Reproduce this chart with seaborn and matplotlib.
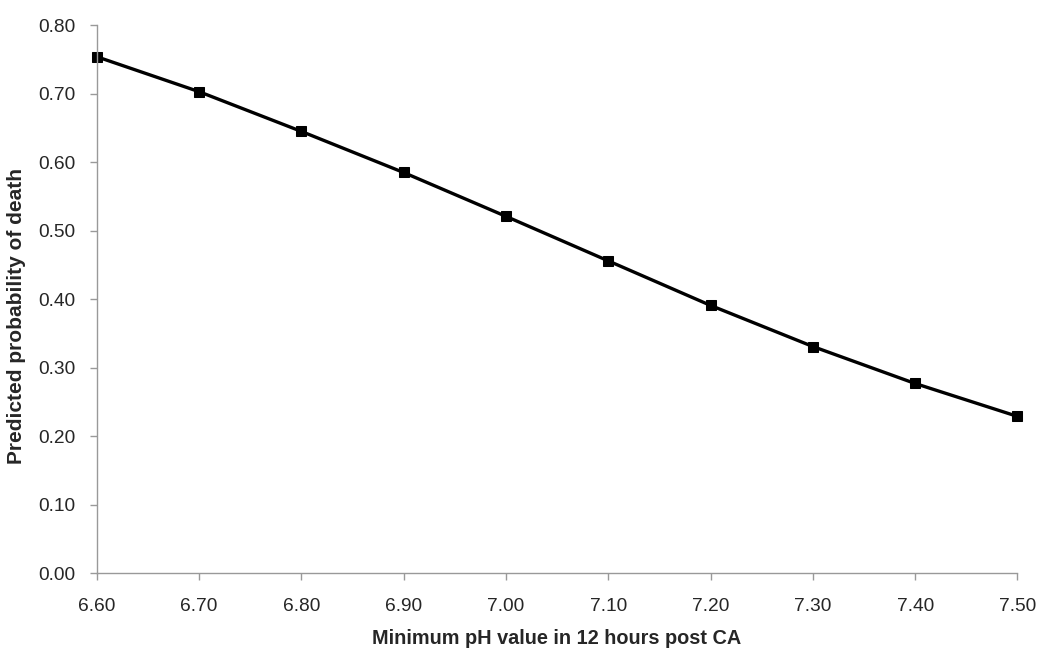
import pandas as pd
import matplotlib
matplotlib.use('Agg')
import matplotlib.pyplot as plt
import seaborn as sns

ph_values = [6.6, 6.7, 6.8, 6.9, 7.0, 7.1, 7.2, 7.3, 7.4, 7.5]
prob_death = [0.754, 0.703, 0.645, 0.585, 0.521, 0.456, 0.391, 0.331, 0.277, 0.229]
x_ticks = [6.6, 6.7, 6.8, 6.9, 7.0, 7.1, 7.2, 7.3, 7.4, 7.5]
y_ticks = [0.0, 0.1, 0.2, 0.3, 0.4, 0.5, 0.6, 0.7, 0.8]

sns.set_style('white')
plt.rcParams['font.family'] = ['Liberation Sans', 'DejaVu Sans']

df = pd.DataFrame({'pH': ph_values, 'Probability': prob_death})

fig = plt.figure(figsize=(10.5, 6.62), dpi=100)
ax = fig.add_axes([0.092, 0.134, 0.877, 0.828])
sns.lineplot(data=df, x='pH', y='Probability', ax=ax, color='black',
             linewidth=2.4, marker='s', markersize=6.5, markeredgecolor='black',
             clip_on=False)

ax.set_xlim(6.6, 7.5)
ax.set_ylim(0, 0.8)
ax.set_xticks(x_ticks)
ax.set_yticks(y_ticks)
ax.set_xticklabels([f"{v:.2f}" for v in x_ticks], fontsize=13.8)
ax.set_yticklabels([f"{v:.2f}" for v in y_ticks], fontsize=13.8)
ax.tick_params(axis='both', direction='out', length=5, width=1, color='#999999',
               bottom=True, left=True)
ax.tick_params(axis='x', pad=13)
ax.tick_params(axis='y', pad=10)

for side in ['top', 'right']:
    ax.spines[side].set_visible(False)
for side in ['left', 'bottom']:
    ax.spines[side].set_color('#999999')
    ax.spines[side].set_linewidth(1)

ax.set_xlabel('Minimum pH value in 12 hours post CA', fontsize=14.3, fontweight='bold', labelpad=10)
ax.set_ylabel('Predicted probability of death', fontsize=15, fontweight='bold')
ax.yaxis.set_label_coords(-0.077, 0.47)

fig.savefig('out.png', dpi=100)
